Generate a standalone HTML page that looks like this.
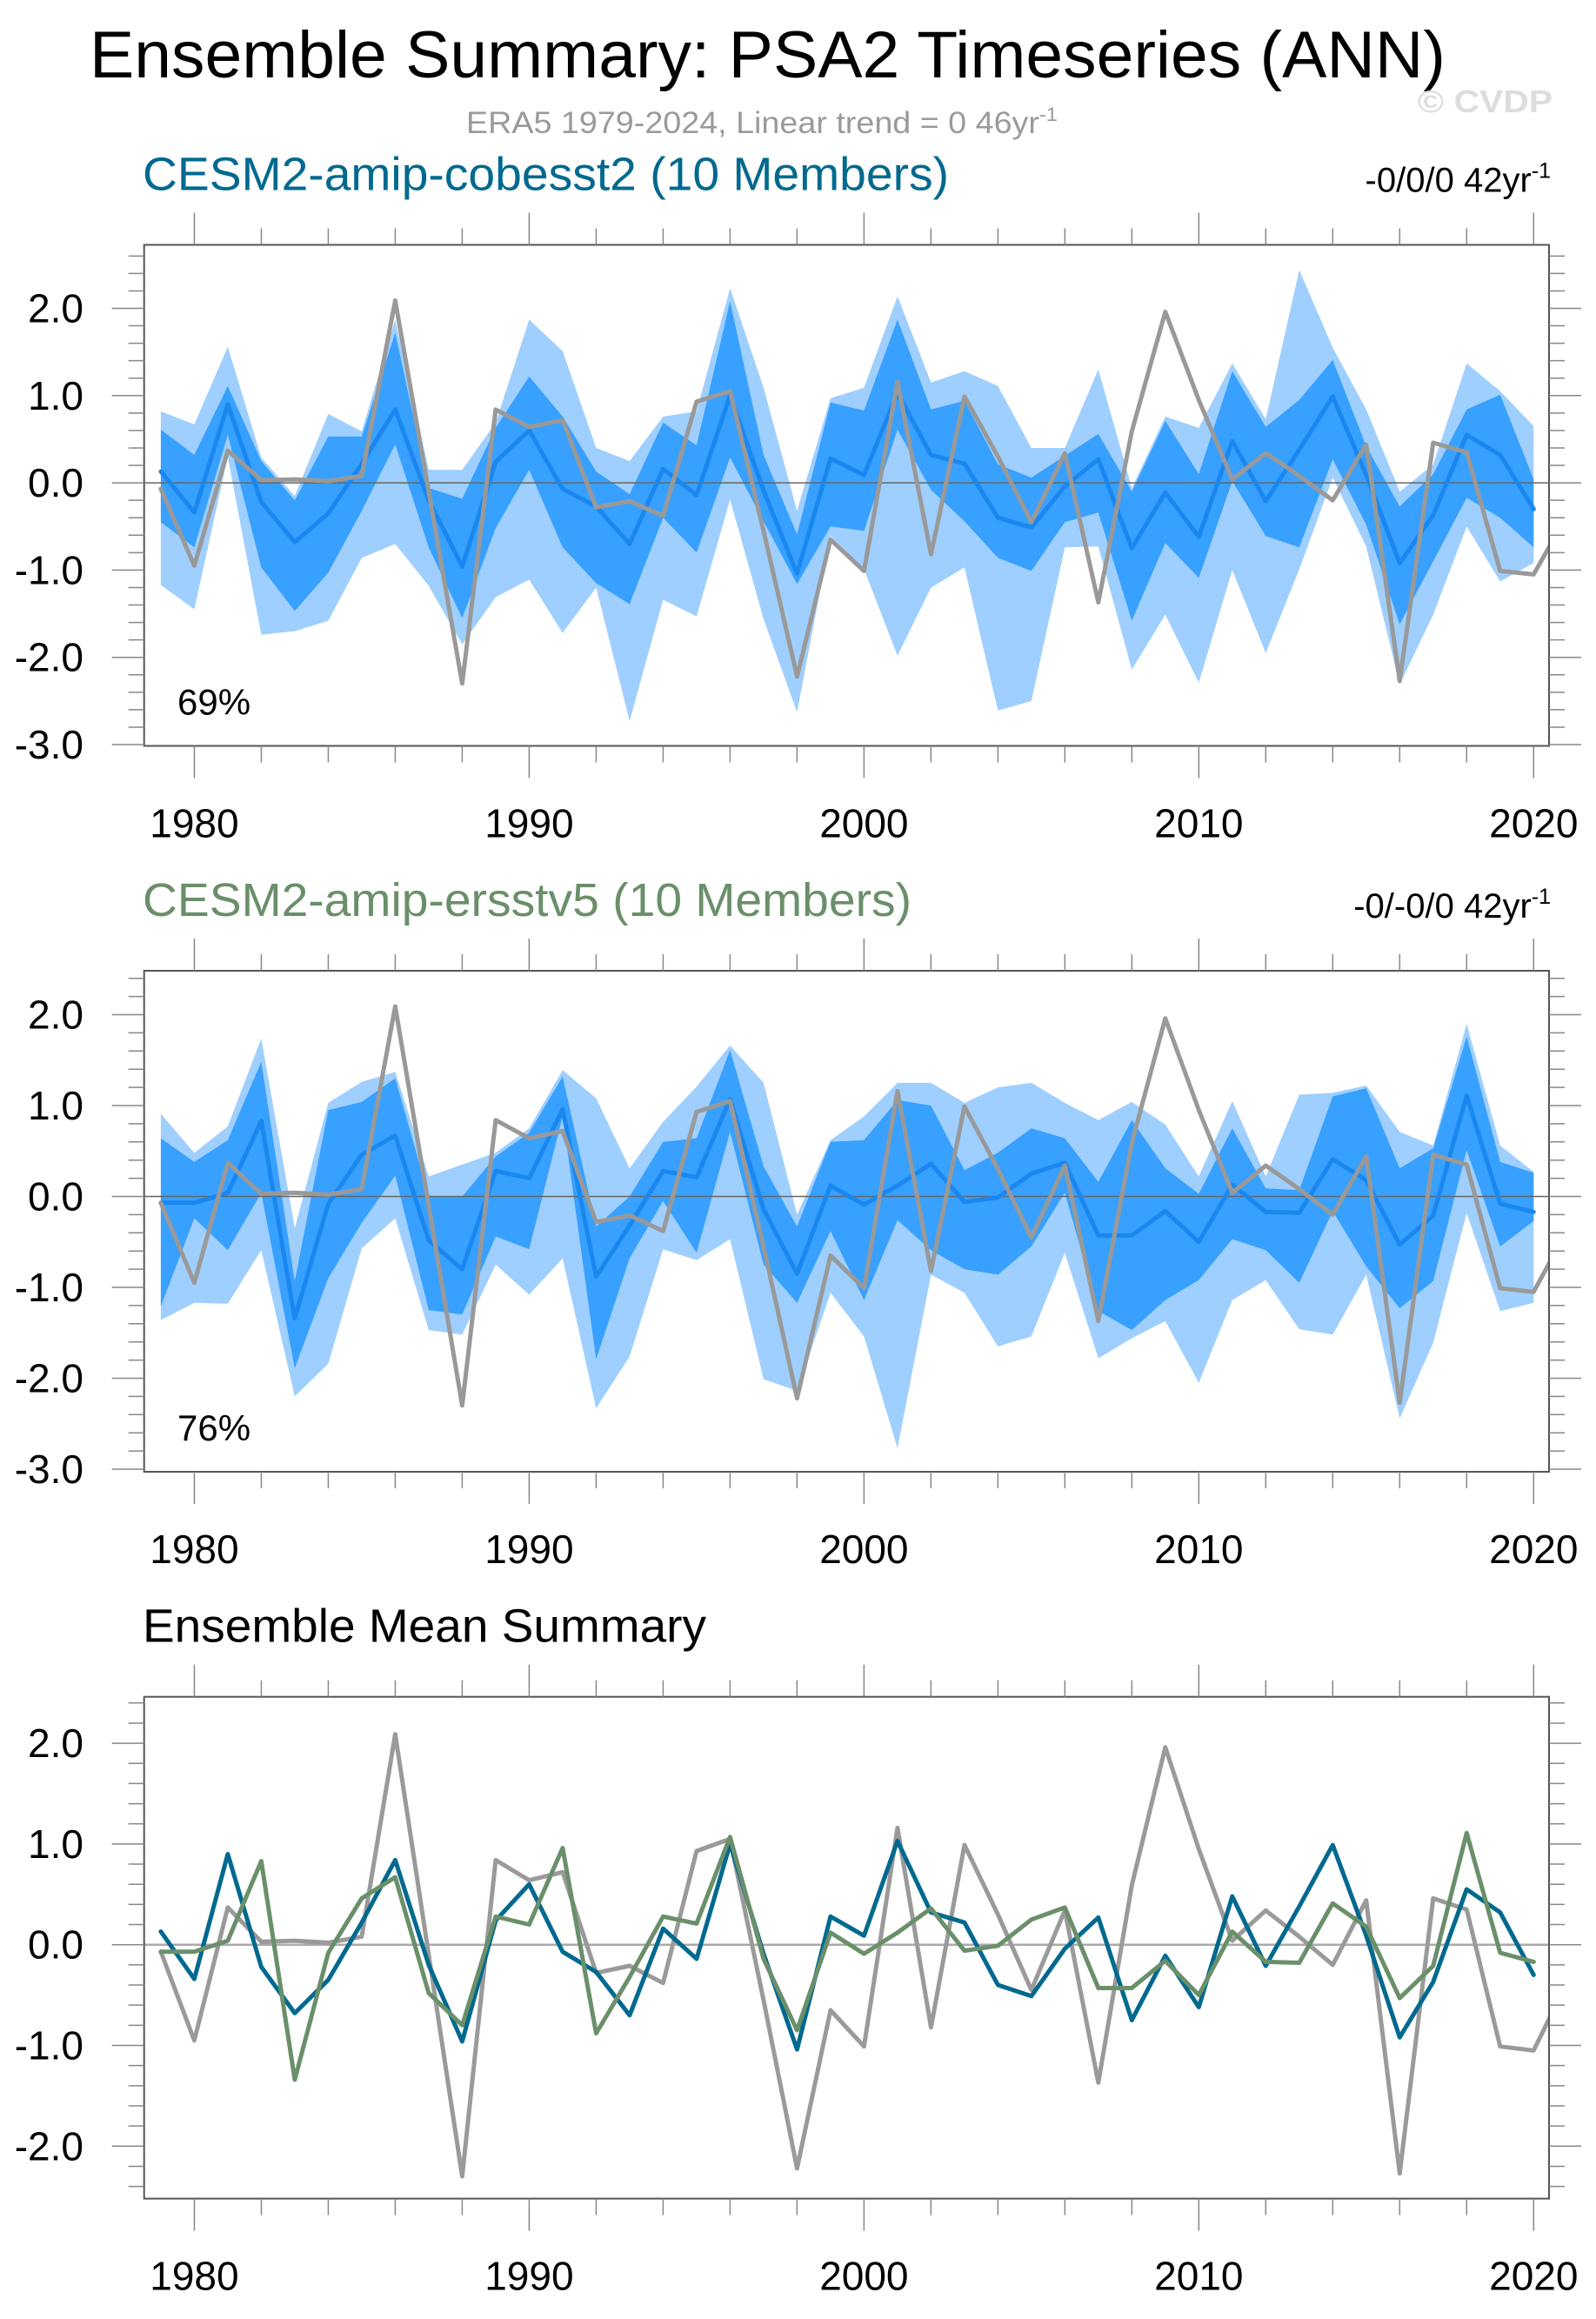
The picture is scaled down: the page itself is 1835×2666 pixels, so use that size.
<!DOCTYPE html>
<html><head><meta charset="utf-8">
<style>
html,body{margin:0;padding:0;background:#fff;}
svg{display:block;font-family:"Liberation Sans",Arial,sans-serif;}
</style></head>
<body>
<svg id="chart" xmlns="http://www.w3.org/2000/svg" width="1835" height="2666" viewBox="0 0 1835 2666">
<rect x="0" y="0" width="1835" height="2666" fill="#fff"/>
<text x="103" y="89" font-size="76" fill="#000" textLength="1559" lengthAdjust="spacingAndGlyphs">Ensemble Summary: PSA2 Timeseries (ANN)</text>
<text x="536" y="153" font-size="35" fill="#9a9a9a" textLength="680" lengthAdjust="spacingAndGlyphs">ERA5 1979-2024, Linear trend = 0 46yr<tspan font-size="22" dy="-14">-1</tspan></text>
<text x="1630" y="129" font-size="36" font-weight="bold" fill="#dddddd" textLength="155" lengthAdjust="spacingAndGlyphs">© CVDP</text>
<g id="panels"></g>
</svg>
<script>
const years = [];
for (let y = 1979; y <= 2020; y++) years.push(y);
const obsYears = years.concat([2021]);
const obsValues = [-0.07,-0.95,0.37,0.03,0.04,0.02,0.08,2.09,-0.1,-2.30,0.84,0.64,0.72,-0.28,-0.21,-0.38,0.93,1.05,-0.55,-2.22,-0.65,-1.01,1.16,-0.82,0.99,0.3,-0.45,0.34,-1.37,0.59,1.96,0.95,0.04,0.34,0.08,-0.2,0.44,-2.27,0.46,0.35,-1.01,-1.05,-0.37];
const cobMean = [0.13,-0.34,0.90,-0.22,-0.68,-0.35,0.22,0.84,-0.2,-0.96,0.24,0.60,-0.07,-0.27,-0.70,0.16,-0.14,1.0,-0.09,-1.04,0.28,0.09,1.03,0.32,0.22,-0.40,-0.51,-0.04,0.27,-0.75,-0.11,-0.62,0.48,-0.21,0.38,0.99,0.09,-0.92,-0.37,0.55,0.32,-0.30];
const cobLightHi = [0.82,0.67,1.56,0.29,-0.15,0.79,0.59,1.87,0.15,0.15,0.69,1.87,1.51,0.40,0.25,0.76,0.82,2.23,1.09,-0.32,0.97,1.09,2.14,1.15,1.28,1.11,0.40,0.40,1.30,-0.06,0.76,0.63,1.37,0.73,2.44,1.55,0.84,-0.10,0.21,1.37,1.05,0.65];
const cobDarkHi = [0.61,0.32,1.11,0.25,-0.2,0.53,0.53,1.72,-0.06,-0.18,0.63,1.22,0.76,0.13,-0.13,0.69,0.43,2.08,0.32,-0.59,0.92,0.83,1.87,0.84,0.94,0.21,0.06,0.31,0.56,-0.1,0.71,0.10,1.28,0.64,0.95,1.41,0.42,-0.27,0.10,0.84,1.01,0.04];
const cobDarkLo = [-0.45,-0.74,0.55,-0.97,-1.47,-1.03,-0.32,0.44,-0.74,-1.55,-0.52,0.15,-0.74,-1.15,-1.39,-0.4,-0.80,0.29,-0.44,-1.16,-0.50,-0.55,0.61,-0.08,-0.44,-0.86,-1.01,-0.45,-0.34,-1.58,-0.69,-1.09,0.02,-0.61,-0.74,0.27,-0.48,-1.62,-0.90,-0.17,-0.40,-0.74];
const cobLightLo = [-1.17,-1.45,0.3,-1.74,-1.70,-1.58,-0.86,-0.70,-1.18,-1.85,-1.31,-1.11,-1.72,-1.2,-2.73,-1.34,-1.53,-0.19,-1.56,-2.63,-0.61,-0.99,-1.98,-1.20,-0.97,-2.61,-2.50,-0.74,-0.73,-2.14,-1.51,-2.29,-1.00,-1.95,-0.99,0.06,-0.73,-2.31,-1.51,-0.50,-1.13,-0.92];
const ersMean = [-0.07,-0.07,0.04,0.83,-1.34,-0.08,0.46,0.67,-0.48,-0.80,0.28,0.20,0.96,-0.88,-0.32,0.28,0.21,1.07,-0.14,-0.85,0.12,-0.09,0.12,0.36,-0.06,-0.01,0.25,0.37,-0.43,-0.43,-0.16,-0.50,0.13,-0.17,-0.18,0.41,0.18,-0.53,-0.21,1.11,-0.08,-0.17];
const ersLightHi = [0.91,0.48,0.77,1.74,-0.35,1.03,1.26,1.37,0.22,0.35,0.48,0.75,1.39,1.08,0.31,0.82,1.21,1.66,1.25,-0.20,0.62,0.88,1.25,1.25,1.03,1.20,1.25,1.03,0.84,1.04,0.79,0.22,1.05,0.22,1.12,1.14,1.22,0.71,0.56,1.90,0.56,0.27];
const ersDarkHi = [0.64,0.38,0.62,1.48,-0.93,0.95,1.04,1.30,0.0,0.0,0.44,0.70,1.32,-0.33,0.0,0.60,0.64,1.61,0.33,-0.33,0.60,0.62,1.06,1.00,0.29,0.48,0.75,0.64,0.16,0.84,0.31,0.03,0.75,0.09,0.07,1.10,1.19,0.31,0.53,1.76,0.38,0.26];
const ersDarkLo = [-1.21,-0.24,-0.59,0.04,-1.89,-0.90,-0.29,0.23,-1.25,-1.30,-0.44,-0.58,0.88,-1.79,-0.68,-0.05,-0.62,0.71,-0.75,-1.17,-0.38,-1.14,-0.26,-0.59,-0.80,-0.86,-0.55,0.04,-1.26,-1.47,-1.14,-0.92,-0.47,-0.59,-0.95,-0.16,-0.77,-1.23,-0.93,0.51,-0.55,-0.27];
const ersLightLo = [-1.36,-1.17,-1.18,-0.59,-2.20,-1.84,-0.57,-0.24,-1.47,-1.52,-0.75,-1.08,-0.68,-2.33,-1.76,-0.58,-0.70,-0.47,-2.01,-2.14,-1.06,-1.54,-2.77,-0.86,-1.06,-1.65,-1.54,-0.62,-1.78,-1.56,-1.37,-2.05,-1.14,-0.92,-1.46,-1.52,-0.86,-2.44,-1.61,-0.18,-1.26,-1.17];
const xTickLabels = [1980, 1990, 2000, 2010, 2020];
const yTickLabelsP12 = ["2.0","1.0","0.0","-1.0","-2.0","-3.0"];
const yTickValuesP12 = [2,1,0,-1,-2,-3];
const yTickLabelsP3 = ["2.0","1.0","0.0","-1.0","-2.0"];
const yTickValuesP3 = [2,1,0,-1,-2];

const NS = "http://www.w3.org/2000/svg";
const root = document.getElementById('panels');
const X0 = 165.7, X1 = 1781, YR0 = 1978.5, YR1 = 2020.46;
function xs(yr){ return X0 + (yr - YR0) * (X1 - X0) / (YR1 - YR0); }
function mk(tag, attrs, parent){
  const e = document.createElementNS(NS, tag);
  for (const k in attrs) e.setAttribute(k, attrs[k]);
  (parent || root).appendChild(e);
  return e;
}
function linePath(xv, yv, ys){
  return xv.map((x,i)=>(i?'L':'M')+xs(x).toFixed(1)+','+ys(yv[i]).toFixed(1)).join(' ');
}
function bandPath(lo, hi, ys){
  let d = years.map((x,i)=>(i?'L':'M')+xs(x).toFixed(1)+','+ys(hi[i]).toFixed(1)).join(' ');
  for (let i = years.length-1; i >= 0; i--) d += ' L'+xs(years[i]).toFixed(1)+','+ys(lo[i]).toFixed(1);
  return d + ' Z';
}

function panel(cfg){
  const g = mk('g', {});
  
  
  const top = cfg.top, bot = cfg.bottom, zero = cfg.zero, unit = cfg.unit;
  const ys = v => zero - v * unit;
  const vTop = (zero - top) / unit, vBot = (zero - bot) / unit;
  const clipId = 'clip-' + cfg.name;
  const defs = mk('defs', {}, g);
  const cp = mk('clipPath', {id: clipId}, defs);
  mk('rect', {x: X0, y: top, width: X1 - X0, height: bot - top}, cp);
  const plot = mk('g', {'clip-path': 'url(#' + clipId + ')'}, g);
  if (cfg.bands) {
    const lb = mk('path', {d: bandPath(cfg.bands.lightLo, cfg.bands.lightHi, ys), fill: '#9fcffe', stroke: 'none'}, plot);
    
    
    const db = mk('path', {d: bandPath(cfg.bands.darkLo, cfg.bands.darkHi, ys), fill: '#38a0fe', stroke: 'none'}, plot);
    
    
  }
  const zl = mk('line', {x1: X0, x2: X1, y1: ys(0), y2: ys(0), stroke: cfg.zeroColor, 'stroke-width': cfg.zeroWidth}, plot);
  
  
  cfg.series.forEach(s => {
    const p = mk('path', {d: linePath(s.x, s.y, ys), fill: 'none', stroke: s.color, 'stroke-width': s.w, 'stroke-linejoin': 'round', 'stroke-linecap': 'round'}, plot);
    
    
  });
  const fr = mk('rect', {x: X0, y: top, width: X1 - X0, height: bot - top, fill: 'none', stroke: '#555', 'stroke-width': 2}, g);
  
  
  const tk = mk('g', {stroke: '#888', 'stroke-width': 1.5}, g);
  
  
  for (let yr = 1980; yr <= 2020; yr += 2) {
    const L = (yr % 10 === 0) ? 37 : 19;
    const x = xs(yr);
    mk('line', {x1: x, x2: x, y1: top, y2: top - L}, tk);
    mk('line', {x1: x, x2: x, y1: bot, y2: bot + L}, tk);
  }
  for (let k = Math.ceil(vBot * 5 - 1e-6); k <= Math.floor(vTop * 5 + 1e-6); k++) {
    const v = k / 5, y = ys(v);
    const L = (k % 5 === 0) ? 37 : 18;
    mk('line', {x1: X0, x2: X0 - L, y1: y, y2: y}, tk);
    mk('line', {x1: X1, x2: X1 + L, y1: y, y2: y}, tk);
  }
  xTickLabels.forEach(yr => {
    const t = mk('text', {x: xs(yr), y: bot + 105, 'font-size': 46, 'text-anchor': 'middle', fill: '#000'}, g);
    t.textContent = yr;
    
    
  });
  cfg.yLabels.forEach((lab, i) => {
    const t = mk('text', {x: 96, y: ys(cfg.yValues[i]) + 16, 'font-size': 46, 'text-anchor': 'end', fill: '#000'}, g);
    t.textContent = lab;
    
    
  });
  const st = mk('text', {x: 164, y: top - 63, 'font-size': 54, fill: cfg.titleColor, textLength: cfg.titleWidth, lengthAdjust: 'spacingAndGlyphs'}, g);
  st.textContent = cfg.title;
  
  
  if (cfg.trend) {
    const tr = mk('text', {x: 1783, y: top - 61, 'font-size': 40, 'text-anchor': 'end', fill: '#000'}, g);
    
    
    tr.appendChild(document.createTextNode(cfg.trend));
    const sup = mk('tspan', {'font-size': 25, dy: -16}, tr);
    sup.textContent = '-1';
  }
  if (cfg.pct) {
    const pt = mk('text', {x: 204, y: bot - 36, 'font-size': 42, fill: '#000'}, g);
    pt.textContent = cfg.pct;
    
    
  }
}

panel({name: 'panel-cobesst2', top: 281.5, bottom: 857.5, zero: 555.1, unit: 100.3,
  title: 'CESM2-amip-cobesst2 (10 Members)', titleWidth: 927, titleColor: '#00698f', trend: '-0/0/0 42yr', pct: '69%',
  bands: {lightLo: cobLightLo, lightHi: cobLightHi, darkLo: cobDarkLo, darkHi: cobDarkHi},
  zeroColor: '#666', zeroWidth: 1.5, yLabels: yTickLabelsP12, yValues: yTickValuesP12,
  series: [
    {name: 'ensemble-mean-line', x: years, y: cobMean, color: '#1a87f0', w: 5},
    {name: 'era5-obs-line', x: obsYears, y: obsValues, color: '#999999', w: 5}
  ]});
panel({name: 'panel-ersstv5', top: 1116, bottom: 1692, zero: 1375.5, unit: 104.5,
  title: 'CESM2-amip-ersstv5 (10 Members)', titleWidth: 884, titleColor: '#6a8f6a', trend: '-0/-0/0 42yr', pct: '76%',
  bands: {lightLo: ersLightLo, lightHi: ersLightHi, darkLo: ersDarkLo, darkHi: ersDarkHi},
  zeroColor: '#666', zeroWidth: 1.5, yLabels: yTickLabelsP12, yValues: yTickValuesP12,
  series: [
    {name: 'ensemble-mean-line', x: years, y: ersMean, color: '#1a87f0', w: 5},
    {name: 'era5-obs-line', x: obsYears, y: obsValues, color: '#999999', w: 5}
  ]});
panel({name: 'panel-ensemble-mean-summary', top: 1950.7, bottom: 2527.6, zero: 2235.7, unit: 115.8,
  title: 'Ensemble Mean Summary', titleWidth: 648, titleColor: '#000',
  zeroColor: '#aaaaaa', zeroWidth: 2.5, yLabels: yTickLabelsP3, yValues: yTickValuesP3,
  series: [
    {name: 'era5-obs-line', x: obsYears, y: obsValues, color: '#9a9a9a', w: 5},
    {name: 'cobesst2-mean-line', x: years, y: cobMean, color: '#00698f', w: 5},
    {name: 'ersstv5-mean-line', x: years, y: ersMean, color: '#6a8f6a', w: 5}
  ]});
</script>
</body></html>
